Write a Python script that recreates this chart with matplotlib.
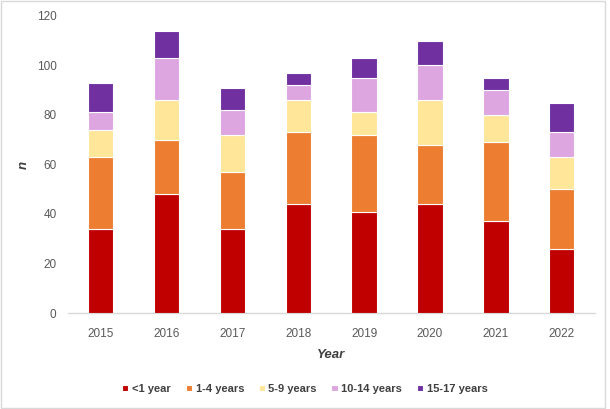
import matplotlib
matplotlib.use("Agg")
import matplotlib.pyplot as plt
import numpy as np
from matplotlib.patches import Rectangle

years = ["2015", "2016", "2017", "2018", "2019", "2020", "2021", "2022"]
age_groups = ["<1 year", "1-4 years", "5-9 years", "10-14 years", "15-17 years"]
lt1 = [34, 48, 34, 44, 41, 44, 37, 26]
y1_4 = [29, 22, 23, 29, 31, 24, 32, 24]
y5_9 = [11, 16, 15, 13, 9, 18, 11, 13]
y10_14 = [7, 17, 10, 6, 14, 14, 10, 10]
y15_17 = [12, 11, 9, 5, 8, 10, 5, 12]
colors = ["#C00000", "#ED7D31", "#FFE699", "#DDA6E0", "#7030A0"]

series = [lt1, y1_4, y5_9, y10_14, y15_17]

plt.rcParams['font.family'] = ['Liberation Sans', 'DejaVu Sans']

fig = plt.figure(figsize=(6.10, 4.09), dpi=100)
ax = fig.add_axes([0.111, 0.2347, 0.864, 0.7263])

x = np.arange(len(years))
bottom = np.zeros(len(years))
handles = []
for vals, col, lab in zip(series, colors, age_groups):
    b = ax.bar(x, vals, width=0.385, bottom=bottom, color=col, edgecolor="white",
               linewidth=0.8, label=lab, zorder=3)
    handles.append(b)
    bottom += np.array(vals)

ax.set_xlim(-0.5, len(years) - 0.5)
ax.set_ylim(0, 120)
ax.set_yticks(np.arange(0, 121, 20))
ax.set_xticks(x)
ax.set_xticklabels(years)
for s in ["top", "right", "left"]:
    ax.spines[s].set_visible(False)
ax.spines["bottom"].set_color("#D9D9D9")
ax.spines["bottom"].set_linewidth(1.0)
ax.tick_params(axis="both", length=0, labelsize=8.5, colors="#595959")
ax.tick_params(axis="x", pad=11)
ax.tick_params(axis="y", pad=8)

ax.set_xlabel("Year", fontsize=9.5, fontweight="bold", style="italic", color="#404040", labelpad=6)
ax.set_ylabel("n", fontsize=9.5, fontweight="bold", style="italic", color="#404040", labelpad=5)

leg = fig.legend(handles=handles, labels=age_groups, loc="center", bbox_to_anchor=(0.5, 0.049),
                 ncol=5, frameon=False, fontsize=8, handlelength=0.55, handleheight=0.55,
                 handletextpad=0.35, columnspacing=1.3)
for t in leg.get_texts():
    t.set_color("#404040")
    t.set_fontweight("bold")

fig.patches.append(Rectangle((0.002, 0.002), 0.990, 0.996, transform=fig.transFigure,
                             fill=False, edgecolor="#D9D9D9", linewidth=1.0))

fig.savefig("out.png", dpi=100)
